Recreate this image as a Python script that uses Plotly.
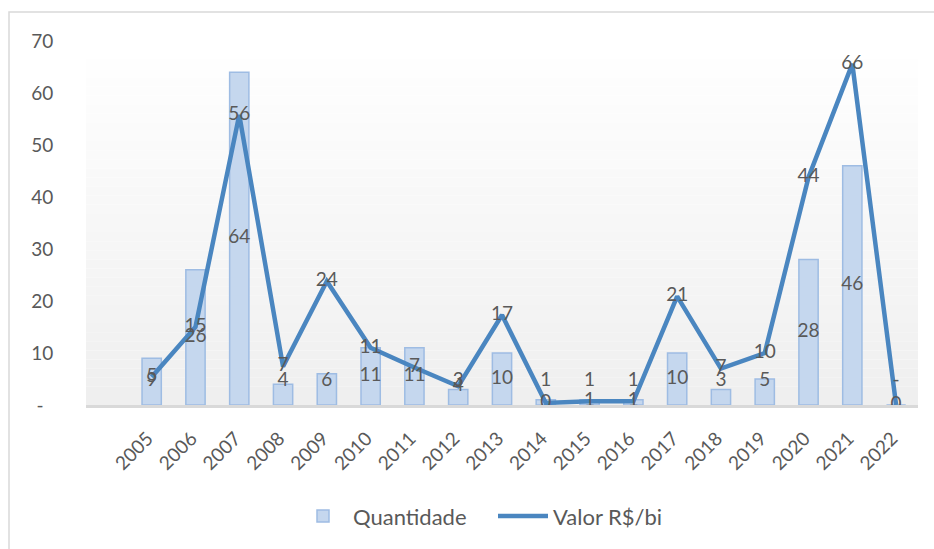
import plotly.graph_objects as go

years = ["2005", "2006", "2007", "2008", "2009", "2010", "2011", "2012", "2013",
         "2014", "2015", "2016", "2017", "2018", "2019", "2020", "2021", "2022"]
quantidade = [9, 26, 64, 4, 6, 11, 11, 3, 10, 1, 1, 1, 10, 3, 5, 28, 46, 0]
valor = [5.4, 15, 55.8, 7.4, 23.8, 11, 7.2, 3.6, 17.3, 0.4, 0.7, 0.7, 20.9, 7, 10, 43.8, 65.6, 0]
y_ticks = [0, 10, 20, 30, 40, 50, 60, 70]
y_ticktext = ["-\u00a0\u00a0", "10", "20", "30", "40", "50", "60", "70"]

TXT = "#595959"
FONT = "Lato"
FS = 19

def fmt(v):
    return "-" if v == 0 else str(int(round(v)))

bar_text = [fmt(v) for v in quantidade]
bar_text_y = [max(v / 2, 4.6) for v in quantidade]
line_text = [str(int(round(v))) for v in valor]

fig = go.Figure()
fig.add_trace(go.Bar(
    x=years, y=quantidade, name="Quantidade", width=0.44,
    marker=dict(color="rgb(197,215,238)", line=dict(color="rgb(158,188,227)", width=1.5)),
    hoverinfo="skip",
))
fig.add_trace(go.Scatter(
    x=years, y=valor, name="Valor R$/bi", mode="lines",
    line=dict(color="#4a86c0", width=4.5),
))
fig.add_trace(go.Scatter(
    x=years, y=bar_text_y, mode="text", text=bar_text, textposition="middle center",
    textfont=dict(family=FONT, size=FS, color=TXT), showlegend=False, hoverinfo="skip",
))
fig.add_trace(go.Scatter(
    x=years, y=valor, mode="text", text=line_text, textposition="middle center",
    textfont=dict(family=FONT, size=FS, color=TXT), showlegend=False, hoverinfo="skip",
))

# gradient plot-area background
shapes = []
n = 40
for i in range(n):
    t = i / (n - 1)
    c = int(round(255 - (255 - 239) * (1 - t)))
    shapes.append(dict(type="rect", xref="paper", yref="paper", x0=0, x1=1,
                       y0=i / n, y1=(i + 1) / n, line=dict(width=0),
                       fillcolor=f"rgb({c},{c},{c})", layer="below"))

# outer chart border (pixel-derived paper coords)
L, R, T, B = 86, 918, 40.7, 407
W, H = R - L, B - T
def px(x): return (x - L) / W
def py(y): return (B - y) / H
shapes.append(dict(type="rect", xref="paper", yref="paper",
                   x0=px(9), x1=px(940), y0=py(560), y1=py(11.5),
                   line=dict(color="#d9d9d9", width=1.5), fillcolor="rgba(0,0,0,0)", layer="below"))

fig.update_layout(
    width=934, height=549,
    margin=dict(l=L, r=934 - R, t=T, b=549 - B),
    paper_bgcolor="white", plot_bgcolor="rgba(0,0,0,0)",
    shapes=shapes,
    barmode="overlay",
    font=dict(family=FONT, size=FS, color=TXT),
    showlegend=True,
    legend=dict(orientation="h", x=px(293), xanchor="left", y=py(519), yanchor="middle",
                font=dict(family=FONT, size=22, color=TXT), itemwidth=50,
                entrywidth=135, entrywidthmode="pixels", traceorder="normal"),
    xaxis=dict(type="category", categoryorder="array", categoryarray=years,
               range=[-1.5, 17.5], tickangle=-45, showgrid=False, zeroline=False,
               showline=True, linecolor="#d9d9d9", linewidth=3, ticks="",
               ticklabelshift=-4, ticklabelstandoff=12,
               tickfont=dict(family=FONT, size=FS, color=TXT)),
    yaxis=dict(range=[0, 70], tickvals=y_ticks, ticktext=y_ticktext, showgrid=False,
               zeroline=False, showline=False, ticks="outside", ticklen=28,
               tickcolor="rgba(0,0,0,0)", tickfont=dict(family=FONT, size=FS, color=TXT)),
)

fig.write_html("out.html", config={"displayModeBar": False},
               post_script="document.body.style.margin='0';")
